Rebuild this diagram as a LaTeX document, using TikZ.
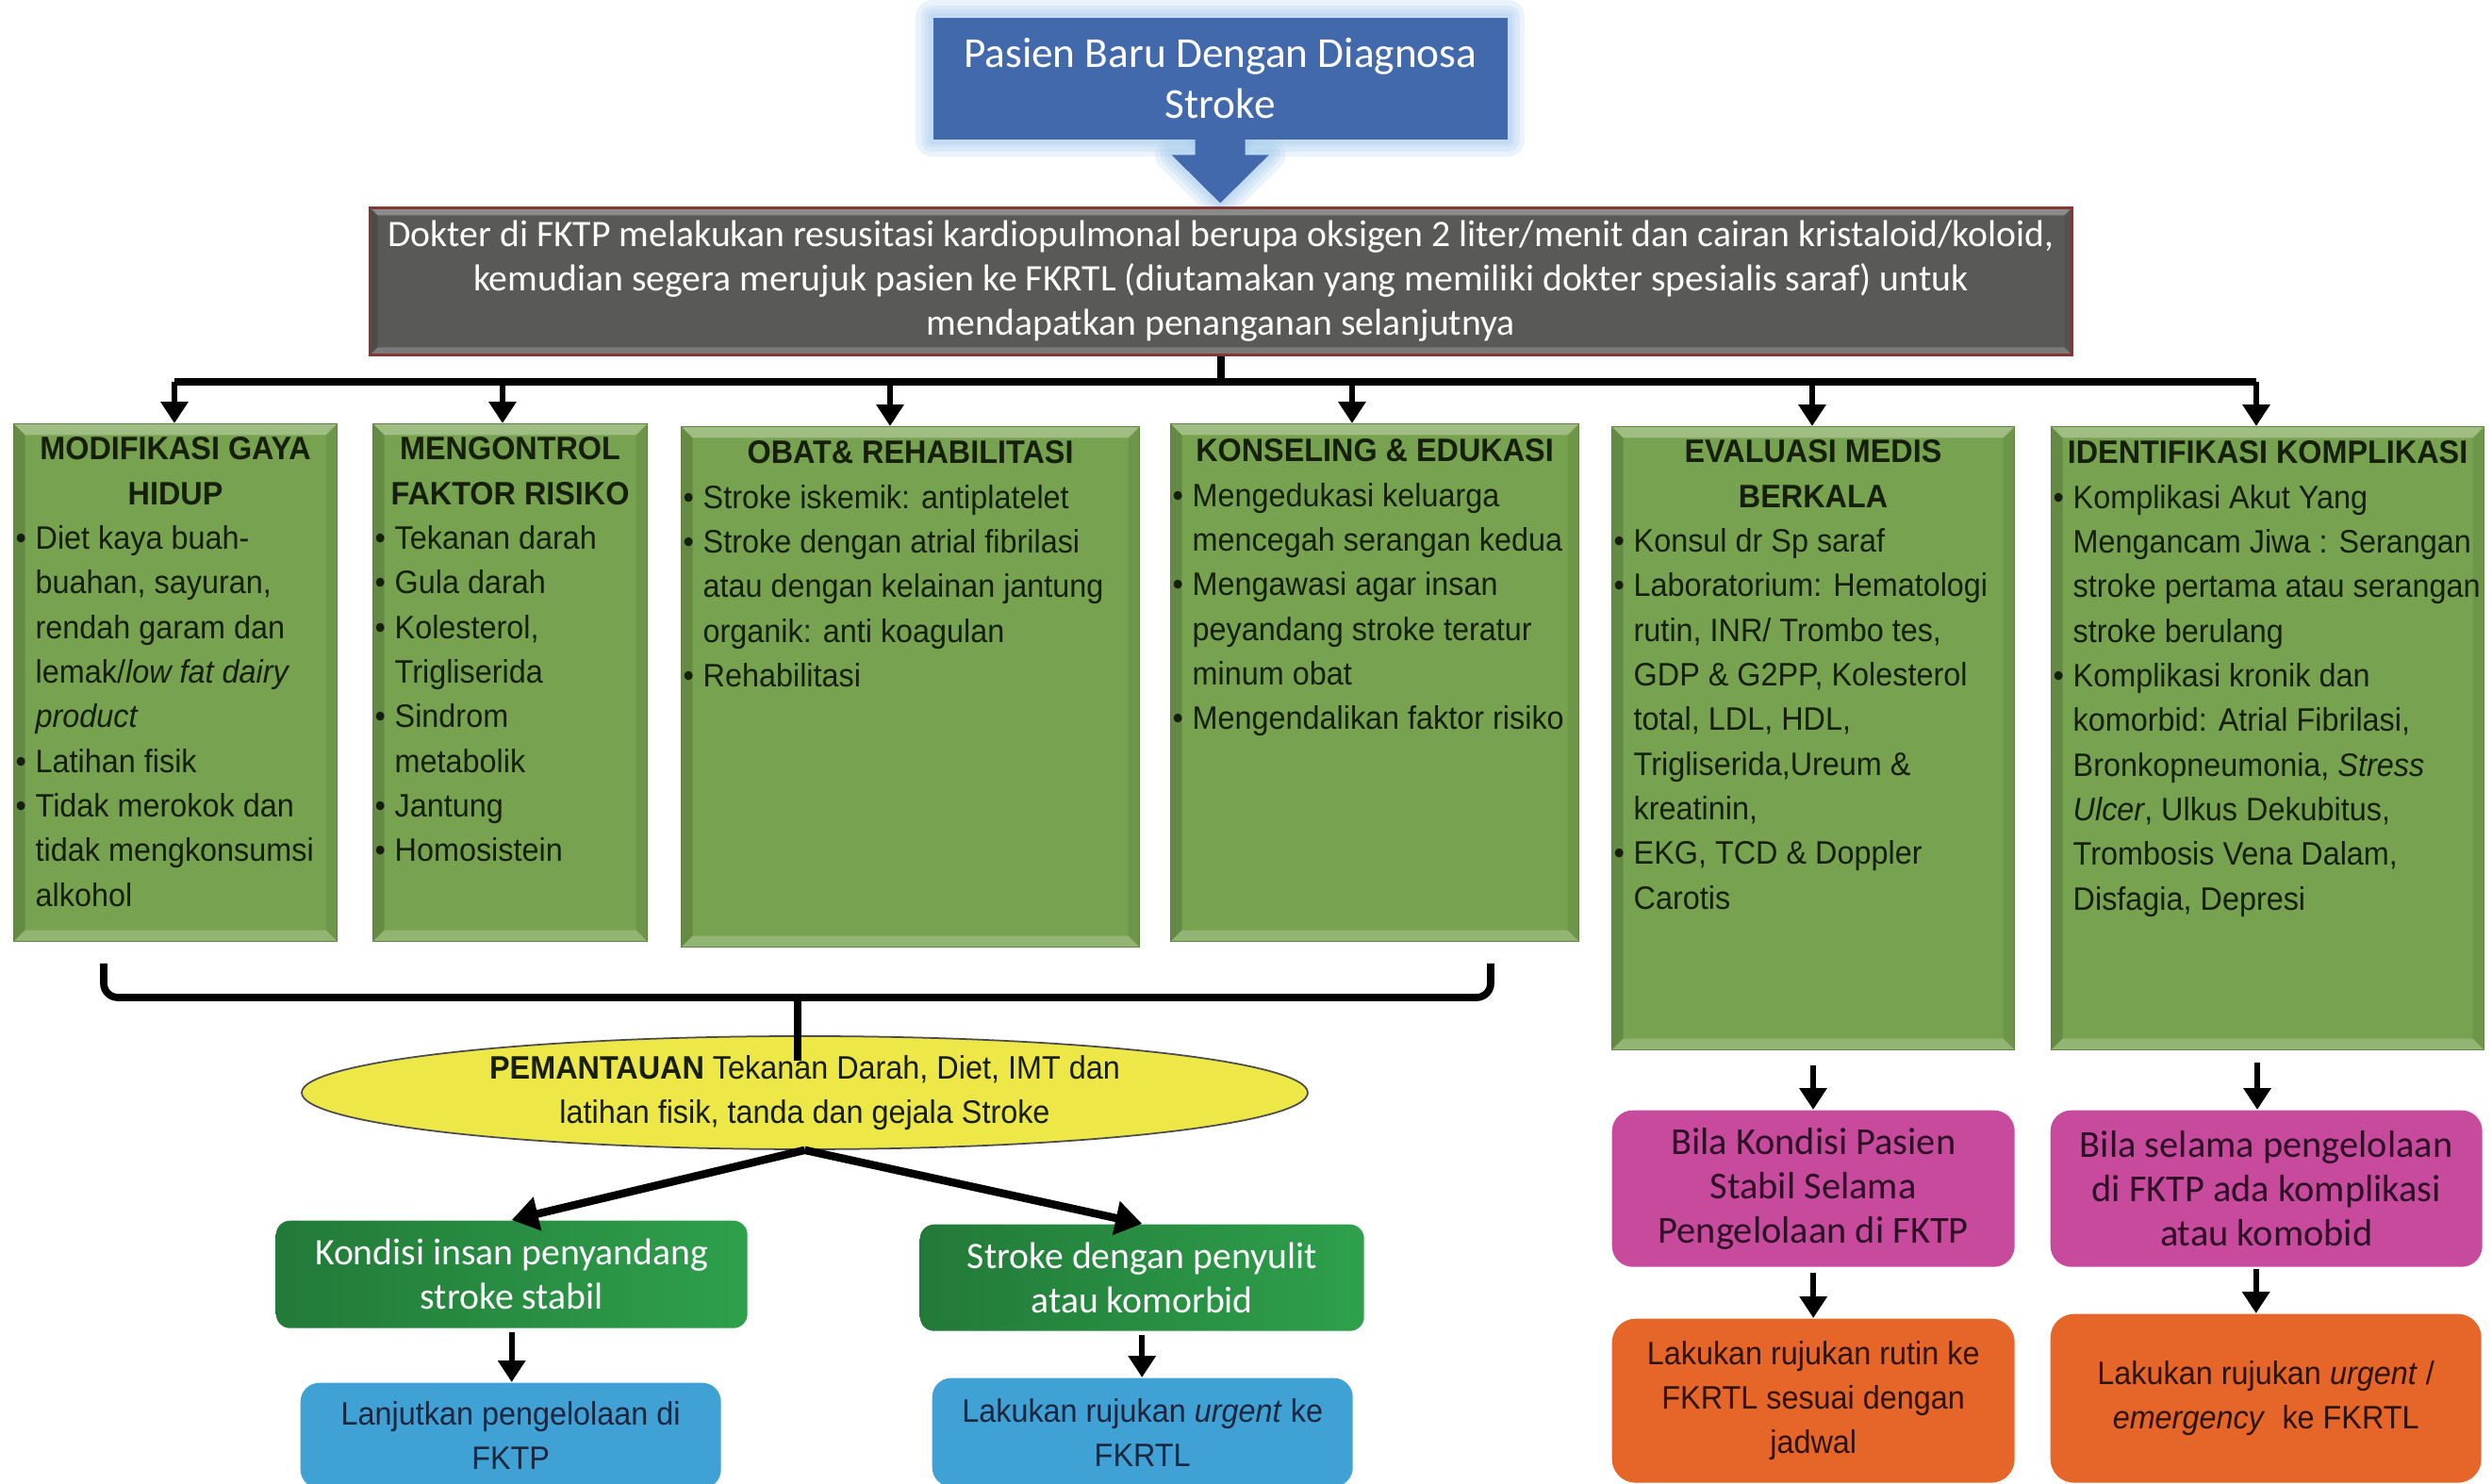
\documentclass[tikz,border=0pt]{standalone}
\usepackage{fontspec}
\setmainfont{Carlito}
\newfontfamily\arialfont[FakeStretch=0.94]{Liberation Sans}
\usetikzlibrary{shapes.geometric,arrows.meta,positioning,backgrounds}

\definecolor{boxgreen}{RGB}{119,163,80}
\definecolor{textgreen}{RGB}{22,30,12}
\definecolor{boxgray}{RGB}{89,89,88}
\definecolor{edgered}{RGB}{130,55,55}
\definecolor{boxblue}{RGB}{65,105,172}
\definecolor{glowblue}{RGB}{160,200,236}
\definecolor{ellyellow}{RGB}{238,231,72}
\definecolor{dgleft}{RGB}{34,122,56}
\definecolor{dgright}{RGB}{46,160,76}
\definecolor{lightblue}{RGB}{64,161,212}
\definecolor{navytext}{RGB}{28,38,62}
\definecolor{boxpink}{RGB}{200,74,156}
\definecolor{pinktext}{RGB}{45,15,38}
\definecolor{boxorange}{RGB}{230,102,42}
\definecolor{orangetext}{RGB}{45,20,10}

\newcommand{\arl}{\arialfont\fontsize{9.8}{13.46}\selectfont}
\newcommand{\carl}[1]{\fontsize{#1}{13.4}\selectfont}
\newcommand{\bul}{\makebox[0.21cm][l]{\textbullet}}
\newcommand{\ind}{\hspace*{0.21cm}}

\tikzset{
  bevel/.style={path picture={
    \fill[white,opacity=.3] (path picture bounding box.north west) -- (path picture bounding box.north east)
      -- ++(-#1,-#1) -- ([shift={(#1,-#1)}]path picture bounding box.north west) -- cycle;
    \fill[black,opacity=.15] (path picture bounding box.north west) -- ([shift={(#1,-#1)}]path picture bounding box.north west)
      -- ([shift={(#1,#1)}]path picture bounding box.south west) -- (path picture bounding box.south west) -- cycle;
    \fill[black,opacity=.08] (path picture bounding box.north east) -- ([shift={(-#1,-#1)}]path picture bounding box.north east)
      -- ([shift={(-#1,#1)}]path picture bounding box.south east) -- (path picture bounding box.south east) -- cycle;
    \fill[white,opacity=.2] (path picture bounding box.south west) -- ([shift={(#1,#1)}]path picture bounding box.south west)
      -- ([shift={(-#1,#1)}]path picture bounding box.south east) -- (path picture bounding box.south east) -- cycle;
  }},
  glow/.style={glowblue, line width=#1, line join=round, opacity=.22},
  bluebox/.style={anchor=north west, fill=boxblue, text=white, align=center, font=\fontsize{12.9}{15.4}\selectfont},
  graybox/.style={anchor=north west, fill=boxgray, draw=edgered, line width=0.8pt, text=white, align=center,
    font=\carl{11.3}, bevel=0.08},
  gbox/.style={anchor=north west, fill=boxgreen, draw=boxgreen!80!black, line width=0.3pt, inner sep=0, bevel=0.12},
  ghead/.style={inner sep=0, align=center, text=textgreen, font=\arl\bfseries,
    execute at begin node=\strut, execute at end node=\strut},
  gbody/.style={anchor=north west, inner sep=0, align=left, text=textgreen, font=\arl, yshift=-0.07cm,
    execute at begin node=\strut, execute at end node=\strut},
  ptext/.style={inner sep=0, align=center, text=textgreen, font=\arl},
  rbox/.style={anchor=north west, rounded corners=#1, align=center, inner sep=0},
  dgbox/.style={rbox=0.15cm, left color=dgleft, right color=dgright, text=white, font=\carl{11.3}},
  lbbox/.style={rbox=0.2cm, fill=lightblue, text=navytext, font=\arl},
  pkbox/.style={rbox=0.22cm, fill=boxpink, text=pinktext, font=\carl{11.5}},
  orbox/.style={rbox=0.25cm, fill=boxorange, text=orangetext, font=\arl},
  bus/.style={line width=2.2pt},
  arr/.style={line width=1.6pt, -{Triangle[width=8pt,length=6.5pt]}},
  bigarr/.style={line width=2.4pt, -{Triangle[width=10pt,length=8pt]}}
}

\begin{document}
\begin{tikzpicture}
\useasboundingbox (0,0) rectangle (26.43,15.74);

% top box with callout arrow
\node[bluebox, minimum width=6.09cm, minimum height=1.29cm] (pasien) at (9.89,15.56) {Pasien Baru Dengan Diagnosa\\Stroke};
\fill[boxblue] ([shift={(-0.265,0.02)}]pasien.south) -- ++(0,-0.18) -- ++(-0.25,0) -- ([yshift=-0.67cm]pasien.south)
  -- ++(0.515,0.51) -- ++(-0.25,0) -- ++(0,0.18) -- cycle;
\begin{scope}[on background layer]
  \foreach \w in {10pt,7pt,4.5pt,2.5pt}{
    \draw[glow=\w] (pasien.north west) rectangle (pasien.south east);
    \draw[glow=\w] ([xshift=-0.265cm]pasien.south) -- ++(0,-0.16) -- ++(-0.25,0)
      -- ([yshift=-0.67cm]pasien.south) -- ++(0.515,0.51) -- ++(-0.25,0) -- ++(0,0.16);
  }
\end{scope}

\node[graybox, minimum width=18.05cm, minimum height=1.56cm] (dokter) at (3.91,13.55) {Dokter di FKTP melakukan resusitasi kardiopulmonal berupa oksigen 2 liter/menit dan cairan kristaloid/koloid,\\kemudian segera merujuk pasien ke FKRTL (diutamakan yang memiliki dokter spesialis saraf) untuk\\mendapatkan penanganan selanjutnya};

% bus
\coordinate (busl) at (1.85,11.69);
\coordinate (busr) at (23.93,11.69);
\draw[bus] (busl) -- (busr);
\draw[bus] (dokter.south) -- (dokter.south |- busl);

% green boxes
\node[gbox, minimum width=3.43cm, minimum height=5.49cm] (modif) at (0.14,11.25) {};
\node[ghead, below=0.14cm of modif.north] (modif-h) {MODIFIKASI GAYA\\HIDUP};
\node[gbody, xshift=0.02cm] (modif-b) at (modif-h.south -| modif.west) {\bul Diet kaya buah-\\\ind buahan, sayuran,\\\ind rendah garam dan\\\ind lemak/\textit{low fat dairy}\\\ind \textit{product}\\\bul Latihan fisik\\\bul Tidak merokok dan\\\ind tidak mengkonsumsi\\\ind alkohol};

\node[gbox, minimum width=2.91cm, minimum height=5.49cm] (kontrol) at (3.95,11.25) {};
\node[ghead, below=0.14cm of kontrol.north] (kontrol-h) {MENGONTROL\\FAKTOR RISIKO};
\node[gbody, xshift=0.02cm] (kontrol-b) at (kontrol-h.south -| kontrol.west) {\bul Tekanan darah\\\bul Gula darah\\\bul Kolesterol,\\\ind Trigliserida\\\bul Sindrom\\\ind metabolik\\\bul Jantung\\\bul Homosistein};

\node[gbox, minimum width=4.86cm, minimum height=5.52cm] (obat) at (7.22,11.22) {};
\node[ghead, below=0.06cm of obat.north] (obat-h) {OBAT\& REHABILITASI};
\node[gbody, xshift=0.02cm] (obat-b) at (obat-h.south -| obat.west) {\bul Stroke iskemik: antiplatelet\\\bul Stroke dengan atrial fibrilasi\\\ind atau dengan kelainan jantung\\\ind organik: anti koagulan\\\bul Rehabilitasi};

\node[gbox, minimum width=4.33cm, minimum height=5.49cm] (konsel) at (12.41,11.25) {};
\node[ghead, below=0.07cm of konsel.north] (konsel-h) {KONSELING \& EDUKASI};
\node[gbody, xshift=0.02cm] (konsel-b) at (konsel-h.south -| konsel.west) {\bul Mengedukasi keluarga\\\ind mencegah serangan kedua\\\bul Mengawasi agar insan\\\ind peyandang stroke teratur\\\ind minum obat\\\bul Mengendalikan faktor risiko};

\node[gbox, minimum width=4.27cm, minimum height=6.61cm] (evaluasi) at (17.09,11.22) {};
\node[ghead, below=0.14cm of evaluasi.north] (evaluasi-h) {EVALUASI MEDIS\\BERKALA};
\node[gbody, xshift=0.02cm] (evaluasi-b) at (evaluasi-h.south -| evaluasi.west) {\bul Konsul dr Sp saraf\\\bul Laboratorium: Hematologi\\\ind rutin, INR/ Trombo tes,\\\ind GDP \& G2PP, Kolesterol\\\ind total, LDL, HDL,\\\ind Trigliserida,Ureum \&\\\ind kreatinin,\\\bul EKG, TCD \& Doppler\\\ind Carotis};

\node[gbox, minimum width=4.59cm, minimum height=6.61cm] (identif) at (21.75,11.22) {};
\node[ghead, below=0.06cm of identif.north] (identif-h) {IDENTIFIKASI KOMPLIKASI};
\node[gbody, xshift=0.02cm] (identif-b) at (identif-h.south -| identif.west) {\bul Komplikasi Akut Yang\\\ind Mengancam Jiwa : Serangan\\\ind stroke pertama atau serangan\\\ind stroke berulang\\\bul Komplikasi kronik dan\\\ind komorbid: Atrial Fibrilasi,\\\ind Bronkopneumonia, \textit{Stress}\\\ind \textit{Ulcer}, Ulkus Dekubitus,\\\ind Trombosis Vena Dalam,\\\ind Disfagia, Depresi};

\foreach \x/\b in {1.85/modif,5.33/kontrol,9.44/obat,14.34/konsel,19.22/evaluasi,23.93/identif}{
  \coordinate (drop-\b) at (\x,11.69);
  \draw[arr] (drop-\b) -- (drop-\b |- \b.north);
}

% monitoring
\node[ellipse, fill=ellyellow, draw=gray!60!black, line width=0.5pt, minimum width=10.67cm, minimum height=1.2cm, inner sep=0] (pantau) at (8.535,4.15) {};
\coordinate (brace-l) at (1.10,5.52);
\coordinate (brace-r) at (15.81,5.52);
\coordinate (brace-m) at (8.46,5.16);
\draw[bus, rounded corners=0.15cm] (brace-l) -- (brace-l |- brace-m) -- (brace-r |- brace-m) -- (brace-r);
\draw[bus] (brace-m) -- ([yshift=-0.27cm]brace-m |- pantau.north);
\node[ptext] (pantau-t) at (pantau) {\textbf{PEMANTAUAN} Tekanan Darah, Diet, IMT dan\\latihan fisik, tanda dan gejala Stroke};

\node[dgbox, minimum width=5.0cm, minimum height=1.14cm] (kondisi) at (2.92,2.80) {Kondisi insan penyandang\\stroke stabil};
\node[dgbox, minimum width=4.71cm, minimum height=1.13cm] (penyulit) at (9.75,2.76) {Stroke dengan penyulit\\atau komorbid};
\node[lbbox, minimum width=4.46cm, minimum height=1.12cm] (lanjut) at (3.18,1.08) {Lanjutkan pengelolaan di\\FKTP};
\node[lbbox, minimum width=4.46cm, minimum height=1.15cm] (rujuk) at (9.88,1.13) {Lakukan rujukan \textit{urgent} ke\\FKRTL};
\draw[bigarr] (pantau.south) -- (kondisi.north);
\draw[bigarr] (pantau.south) -- (penyulit.north);
\draw[arr] ([yshift=-0.04cm]kondisi.south) -- (kondisi.south |- lanjut.north);
\draw[arr] ([yshift=-0.04cm]penyulit.south) -- (penyulit.south |- rujuk.north);

% right column
\node[pkbox, minimum width=4.27cm, minimum height=1.66cm] (stabil) at (17.09,3.97) {Bila Kondisi Pasien\\Stabil Selama\\Pengelolaan di FKTP};
\node[pkbox, minimum width=4.58cm, minimum height=1.66cm] (komplikasi) at (21.74,3.97) {Bila selama pengelolaan\\di FKTP ada komplikasi\\atau komobid};
\node[orbox, minimum width=4.27cm, minimum height=1.74cm] (rutin) at (17.09,1.76) {Lakukan rujukan rutin ke\\FKRTL sesuai dengan\\jadwal};
\node[orbox, minimum width=4.57cm, minimum height=1.79cm] (darurat) at (21.74,1.81) {Lakukan rujukan \textit{urgent} /\\\textit{emergency}\ \ ke FKRTL};
\coordinate (eval-out) at ([yshift=-0.16cm]evaluasi.south);
\coordinate (idf-out) at ([shift={(-0.11,-0.13)}]identif.south);
\coordinate (kmp-out) at ([shift={(-0.11,-0.02)}]komplikasi.south);
\draw[arr] (eval-out) -- (eval-out |- stabil.north);
\draw[arr] (idf-out) -- (idf-out |- komplikasi.north);
\draw[arr] ([yshift=-0.06cm]stabil.south) -- (stabil.south |- rutin.north);
\draw[arr] (kmp-out) -- (kmp-out |- darurat.north);
\end{tikzpicture}
\end{document}
